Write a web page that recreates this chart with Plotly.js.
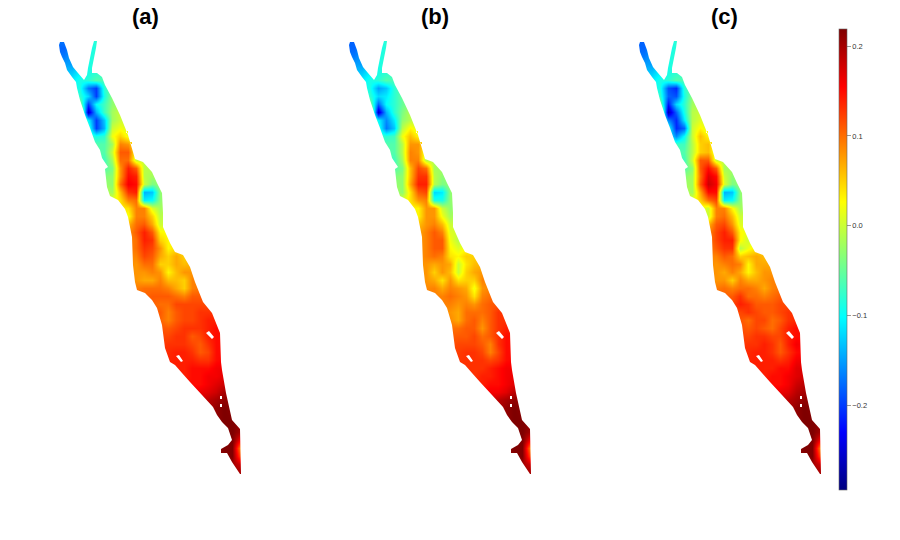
<!DOCTYPE html>
<html><head><meta charset="utf-8">
<script src="https://cdn.plot.ly/plotly-3.0.1.min.js"></script>
<style>html,body{margin:0;padding:0;background:#fff}</style></head>
<body><div id="chart" style="width:900px;height:540px"></div>
<script>
const titles = ['(a)', '(b)', '(c)'];
const colTicks = [-0.2, -0.1, 0, 0.1, 0.2];
const gridX = [56,64,72,80,88,96,104,112,120,128,136,144,152,160,168,176,184,192,200,208,216,224,232,240];
const rowY = [40,48,56,64,72,80,88,96,104,112,120,128,136,144,152,160,168,176,184,192,200,208,216,224,232,240,248,256,264,272,280,288,296,304,312,320,328,336,344,352,360,368,376,384,392,400,408,416,424,432,440,448,456,464,472];
const rowStart = [56,56,64,64,72,72,80,80,80,80,88,88,96,96,104,104,104,112,112,112,120,128,128,136,136,136,136,136,136,136,136,144,152,160,160,168,168,168,168,176,176,184,184,192,208,208,216,224,224,232,232,224,232,240,240];
const n = null;
// values in hundredths
const valuesA = [[-17,-17,n,n,n,-8],[-18,-18,n,n,n,-8],[-17,n,n,-9,-8],[-15,-15,n,-9,-8],[-13,n,-9,-8],[-11,-9,-8,-6],
[-9,-17,-20,-8],[-8,-12,-20,-9,-3],[-4,-20,-10,-7,-3],[4,-26,-14,-7,-2,0],[-10,-20,-13,-2,0],[-7,-20,-14,0,2,1],[-9,-8,2,5,2],[-6,-6,-2,9,8,2],[-6,0,11,11,2],[-7,-2,10,10,0],[-6,-4,8,14,11,-1],[-3,8,15,14,-1,-2],[-3,10,16,15,0,-4],[-2,6,13,14,-14,-13,-3],[4,9,10,-11,-10,-3],[4,9,9,1,-2],[2,9,9,5,-1],[10,11,7,0],[11,14,11,3],[10,14,13,5,3],[10,13,12,8,3],[9,12,11,7,5,7,5],[8,10,10,5,5,7,6],[8,8,9,8,3,6,8,8],[8,7,7,9,6,6,5,9],[10,10,10,9,7,5,9],[11,11,11,10,9,11,11],[10,10,12,12,12,12],[11,9,11,12,12,13,13],[9,11,12,12,13,14],[11,12,13,13,13,14,15],[12,13,13,11,12,14,15],[13,13,13,12,11,13,15],[14,14,13,11,12,15],[14,14,14,13,13,15],[14,15,15,15,16],[14,15,15,16,16],[15,15,16,17,18],[17,18,20],
[19,20,21],[21,22],[22],[22,22],[22,20],[22,16],[22,22,9],[22,12],[18],[20]];
const valuesB = [[-18,-18,n,n,n,-8],[-18,-18,n,n,n,-8],[-17,n,n,-9,-8],[-15,-15,n,-9,-8],[-13,n,-9,-8],[-11,-9,-8,-6],
[-9,-15,-13,-8],[-8,-12,-11,-8,-5],[-4,-18,-10,-8,-5],[4,-26,-14,-8,-4,-1],[-10,-16,-11,-3,-1],[-8,-17,-13,-1,3,1],[-8,-7,2,6,3],[-6,-6,-1,8,8,2],[-6,-1,9,8,1],[-7,-2,9,9,-1],[-6,-4,6,12,10,-2],[-3,6,13,13,-1,-3],[-3,7,14,14,-1,-4],[-3,4,11,12,-12,-11,-3],[4,8,9,-9,-9,-3],[3,8,8,0,-3],[3,8,8,2,-2],[8,9,6,0],[9,11,9,1],[9,11,11,2,-1],[9,11,11,3,1],[9,10,9,4,3,5,5],[8,7,8,7,0,4,6],[8,5,8,6,0,5,7,8],[8,7,4,8,4,5,5,9],[9,7,9,8,7,2,8],[9,10,9,8,4,9,10],[9,8,9,8,10,11],[8,7,10,10,10,11,13],[7,10,11,9,11,13],[10,11,11,8,11,13,14],[11,11,12,10,11,13,15],[12,12,12,11,9,13,15],[13,13,12,9,12,15],[13,13,13,12,13,15],[13,13,14,15,16],[13,14,14,15,16],[14,15,15,16,17],[16,17,19],
[19,20,21],[21,22],[22],[22,22],[22,20],[22,16],[22,22,9],[22,12],[18],[20]];
const valuesC = [[-18,-18,n,n,n,-8],[-18,-18,n,n,n,-8],[-17,n,n,-9,-8],[-15,-15,n,-9,-8],[-13,n,-9,-8],[-11,-9,-8,-6],
[-9,-19,-21,-8],[-8,-18,-19,-9,-3],[-4,-22,-12,-8,-2],[4,-27,-18,-9,-1,0],[-16,-21,-11,-1,1],[-9,-21,-18,0,3,1],[-16,-10,0,6,3],[-7,-7,-1,5,6,1],[-6,-1,5,6,1],[-7,0,11,11,0],[-6,-3,11,15,11,-2],[-2,10,17,15,0,-3],[-2,11,18,16,1,-4],[-2,7,15,15,-14,-13,-3],[5,10,12,-11,-10,-3],[0,9,9,3,-2],[0,9,10,6,0],[11,12,8,1],[12,14,11,3],[12,14,14,3,0],[11,13,13,-1,2],[9,11,10,5,6,7,6],[8,9,10,9,3,7,7],[8,7,9,7,3,6,8,8],[8,8,5,9,7,7,8,9],[10,9,10,10,9,7,9],[11,13,10,10,9,10,11],[14,13,11,11,11,12],[12,13,12,11,11,12,13],[10,12,12,10,11,13],[11,12,11,10,12,14,15],[12,13,13,12,12,14,15],[13,13,14,13,11,14,16],[14,14,13,11,13,15],[14,14,14,13,14,16],[14,14,15,15,17],[14,15,15,16,17],[15,15,16,18,19],[17,19,20],
[19,20,21],[21,22],[22],[22,22],[22,20],[22,16],[22,22,9],[22,12],[18],[20]];
const coastX = [60,64,67,69,73,78,84,87,88,90,92,94,97,96,94,92,92,97,102,105,112,120,128,133,135,143,152,157,162,163,163,170,175,183,190,195,203,212,220,221,222,226,232,240,241,240,232,227,221,221,228,232,228,222,217,213,202,190,182,175,170,165,162,157,152,145,137,135,133,132,128,125,118,110,107,105,108,102,100,95,90,85,80,77,76,72,67,65,62,60,59];
const coastY = [42,42,50,58,67,73,80,75,68,58,48,41,41,48,58,68,73,73,77,85,98,115,135,152,159,162,172,183,193,213,227,243,252,255,267,282,302,313,333,362,370,393,420,429,474,474,462,453,453,449,445,440,428,422,415,407,395,382,373,365,362,348,325,308,300,293,290,282,265,237,217,209,200,196,187,169,167,158,150,142,128,115,100,88,82,77,70,63,57,52,45];
const holesX = [[206,209,214,212],[176,179,183,181],[220,222,222,220],[220,222,222,220],[126,128,128,126],[130,132,132,130]];
const holesY = [[333,331,337,339],[356,355,361,362],[396,396,399,399],[404,404,407,407],[131,131,133,133],[142,142,144,144]];
const jetStops = [[0,'#00007f'],[0.125,'#0000ff'],[0.375,'#00ffff'],[0.625,'#ffff00'],[0.875,'#ff0000'],[1,'#7f0000']];

function buildZ(values){
  return rowY.map((y,r)=>{
    const row = gridX.map(()=>null);
    const first = gridX.indexOf(rowStart[r]);
    values[r].forEach((v,i)=>{ if(v!==null) row[first+i]=v/100; });
    return row;
  });
}
function poly(xs,ys){ return 'M'+xs.map((x,i)=>x+','+ys[i]).join(' L')+' Z'; }
const maskPath = 'M50,0 L250,0 L250,540 L50,540 Z ' + poly(coastX,coastY) + ' ' + holesX.map((h,i)=>poly(h,holesY[i])).join(' ');
const panels = [valuesA,valuesB,valuesC];
const axisNames = ['x','x2','x3'];
const lefts = [50,340,630];
const titleX = [145,435,724];

const data = panels.map((v,i)=>({
  type:'heatmap', x:gridX, y:rowY, z:buildZ(v), xaxis:axisNames[i], yaxis:'y',
  zsmooth:'best', connectgaps:true, coloraxis:'coloraxis', hoverinfo:'skip'
}));
const hidden = {visible:false, fixedrange:true, showgrid:false, zeroline:false};
const layout = {
  width:900, height:540, margin:{l:0,r:0,t:0,b:0}, paper_bgcolor:'#fff', plot_bgcolor:'#fff', showlegend:false,
  yaxis:Object.assign({range:[540,0],domain:[0,1]},hidden),
  coloraxis:{cmin:-0.294,cmax:0.219,colorscale:jetStops,colorbar:{
    x:839/900,xanchor:'left',xpad:0,ypad:0,y:1-29/540,yanchor:'top',
    thickness:7.5,thicknessmode:'pixels',len:461,lenmode:'pixels',
    outlinecolor:'#666',outlinewidth:0.6,
    tickmode:'array',tickvals:colTicks,tickformat:'.1f',ticks:'outside',ticklen:4,tickwidth:0.6,tickcolor:'#555',
    tickfont:{family:'Liberation Sans',size:7.5,color:'#333'}
  }},
  shapes:axisNames.map(a=>({type:'path',xref:a,yref:'y',path:maskPath,fillcolor:'#fff',line:{width:0},layer:'above'})),
  annotations:titles.map((t,i)=>({text:'<b>'+t+'</b>',xref:'paper',yref:'paper',x:titleX[i]/900,y:1-16/540,xanchor:'center',yanchor:'middle',showarrow:false,font:{family:'Liberation Sans',size:22,color:'#000'}}))
};
axisNames.forEach((a,i)=>{
  layout['xaxis'+(i?i+1:'')] = Object.assign({range:[50,250],domain:[lefts[i]/900,(lefts[i]+200)/900],anchor:'y'},hidden);
});
Plotly.newPlot('chart',data,layout,{displayModeBar:false,staticPlot:true});
</script></body></html>
